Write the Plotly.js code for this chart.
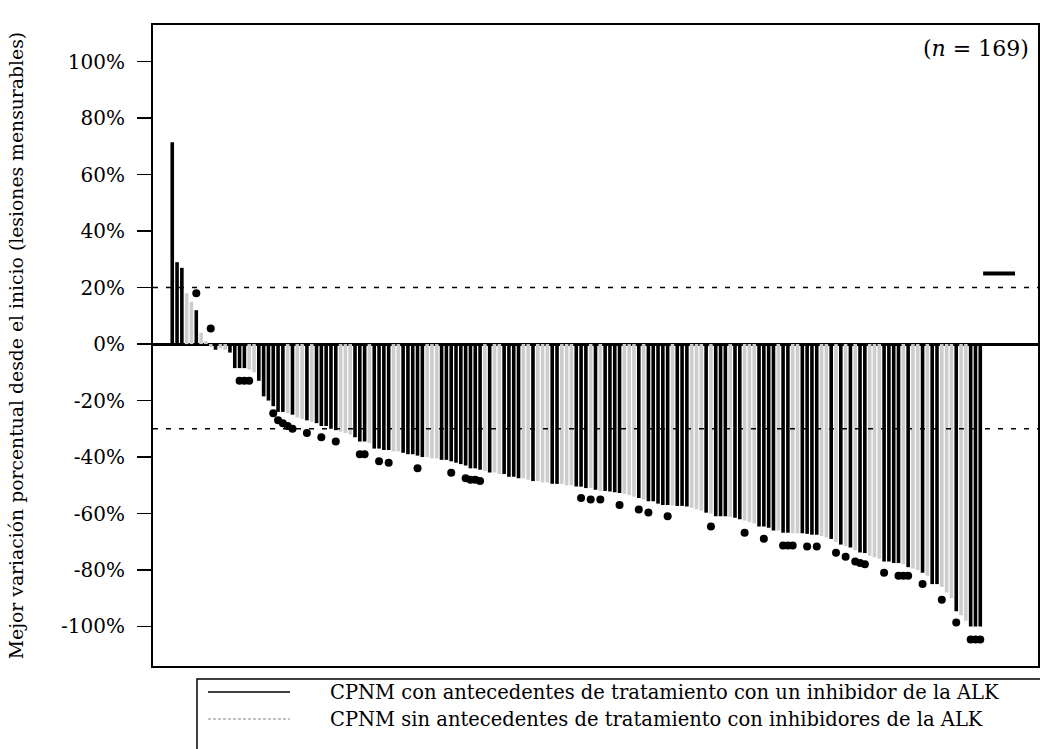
<!DOCTYPE html>
<html>
<head>
<meta charset="utf-8">
<script src="https://cdn.plot.ly/plotly-3.0.1.min.js"></script>
<style>
html,body{margin:0;padding:0;background:#fff;}
#chart{width:1040px;height:749px;}
</style>
</head>
<body>
<div id="chart"></div>
<script>
// Best percent change per patient (visible bar tip), sorted waterfall
const barValues = [
 71.5, 29, 27, 18, 15, 12, 4, 1, -1, -2,
 -1.5, -2, -3, -8.5, -8.5, -8.5, -9, -10, -13, -18.5,
 -20, -22, -24, -24, -24.5, -25, -26, -26.5, -27, -27.5,
 -28, -29, -29, -30, -30.5, -31, -31.5, -32, -33, -34.5,
 -34.5, -35, -37, -37, -37.5, -37.5, -38, -38, -38.5, -39,
 -39, -39.5, -40, -40, -40.5, -40.5, -41, -41, -41.5, -42,
 -42.5, -43, -44, -44, -44.5, -45, -45.5, -45.5, -46, -46,
 -47, -47, -47.5, -47.5, -48, -48.5, -48.5, -49, -49, -49.5,
 -49.5, -49.5, -50, -50, -50.4, -50.5, -51, -51, -51.6, -52,
 -52, -52.2, -52.5, -52.7, -53, -53.5, -54, -54.5, -55, -55.7,
 -55.7, -56.5, -57, -57, -57.2, -57.3, -57.3, -57.5, -58, -58.5,
 -59, -59.7, -60, -61, -61, -61, -61.2, -61.5, -62, -62.5,
 -63, -63.5, -64.6, -64.6, -65, -66, -66, -66.8, -66.8, -67,
 -67, -67, -67.2, -67.5, -67.5, -68, -68.5, -69, -70, -71,
 -71.5, -72, -73, -73.8, -74, -75, -75.5, -76, -77, -77,
 -77.5, -77.5, -78, -79, -79.5, -80, -81, -82, -85, -85,
 -86, -88, -90, -94.6, -96, -98, -100, -100, -100
];
// 'A' = prior ALK inhibitor (black), 'B' = ALK-inhibitor naive (grey)
const groups = [
 'A','A','A','B','B','A','B','B','B','A',
 'B','B','A','A','A','A','B','B','A','A',
 'A','A','A','A','B','A','B','B','A','B',
 'A','A','A','A','A','B','B','B','A','A',
 'A','B','A','A','A','A','B','B','A','A',
 'A','A','A','B','B','B','A','A','A','A',
 'A','A','A','A','A','B','A','B','B','A',
 'A','A','A','B','B','A','B','B','B','A',
 'A','B','B','B','A','A','A','B','A','B',
 'A','A','A','A','B','B','B','A','B','A',
 'A','A','A','A','B','A','A','A','B','B',
 'B','A','B','A','A','A','B','A','A','B',
 'B','B','A','A','A','A','B','A','A','B',
 'B','A','A','A','A','B','B','A','B','A',
 'B','A','B','A','A','B','B','B','A','A',
 'A','A','B','A','B','B','A','B','A','A',
 'B','B','B','A','B','B','A','A','A'
];
// Dot markers below the bars
const dotIndex = [5, 8, 14, 15, 16, 21, 22, 23, 24, 25, 28, 31, 34, 39, 40, 43, 45, 51, 58, 61, 62, 63, 64,
 85, 87, 89, 93, 97, 99, 103, 112, 119, 123, 127, 128, 129, 132, 134, 138, 140, 142, 143, 144,
 148, 151, 152, 153, 156, 160, 163, 166, 167, 168];
const dotValues = [18, 5.5, -13, -13, -13, -24.5, -27, -28, -29, -30, -31.5, -33, -34.5, -39, -39, -41.5, -42, -44, -45.6, -47.5, -48, -48, -48.5,
 -54.5, -55, -55, -57, -58.6, -59.6, -61, -64.6, -66.8, -68.9, -71.3, -71.3, -71.3, -71.7, -71.7, -73.9, -75.3, -77, -77.5, -78,
 -81, -82, -82, -82, -85, -90.5, -98.6, -104.6, -104.6, -104.6];

const tickValues = [100, 80, 60, 40, 20, 0, -20, -40, -60, -80, -100];
const tickLabels = ['100%', '80%', '60%', '40%', '20%', '0%', '-20%', '-40%', '-60%', '-80%', '-100%'];
const seriesNames = [
 'CPNM con antecedentes de tratamiento con un inhibidor de la ALK',
 'CPNM sin antecedentes de tratamiento con inhibidores de la ALK'
];
const seriesColors = ['#000000', '#cdcdcd'];
const thresholds = [20, -30];

const idx = barValues.map((_, i) => i);
const yA = barValues.map((v, i) => groups[i] === 'A' ? v : null);
const yB = barValues.map((v, i) => groups[i] === 'B' ? v : null);

const FONT = 'DejaVu Serif, Liberation Serif, serif';

const traces = [
  {type: 'bar', x: idx, y: yB, name: seriesNames[1], marker: {color: seriesColors[1], line: {width: 0}}, showlegend: false, hoverinfo: 'skip'},
  {type: 'bar', x: idx, y: yA, name: seriesNames[0], marker: {color: seriesColors[0], line: {width: 0}}, showlegend: false, hoverinfo: 'skip'},
  {type: 'scatter', mode: 'markers', x: dotIndex, y: dotValues,
   marker: {color: '#000', size: 8, symbol: 'circle'}, showlegend: false, hoverinfo: 'skip'}
];

const shapes = thresholds.map(t => ({
  type: 'line', xref: 'paper', yref: 'y', x0: 0, x1: 1, y0: t, y1: t,
  line: {color: '#000', width: 1.5, dash: '5px,8px'}, layer: 'above'
}));
shapes.push({type: 'line', xref: 'paper', yref: 'y', x0: 0.938, x1: 0.974, y0: 25, y1: 25,
  line: {color: '#000', width: 4}});

// Hand-built legend box (paper coordinates)
const legRowsY = [-0.0406, -0.0827];
shapes.push({type: 'rect', xref: 'paper', yref: 'paper', x0: 0.0497, x1: 1.01, y0: -0.0203, y1: -0.16,
  line: {color: '#000', width: 1.5}, fillcolor: 'rgba(0,0,0,0)'});
shapes.push({type: 'line', xref: 'paper', yref: 'paper', x0: 0.0621, x1: 0.1548, y0: legRowsY[0], y1: legRowsY[0],
  line: {color: '#000', width: 1.5}});
shapes.push({type: 'line', xref: 'paper', yref: 'paper', x0: 0.0621, x1: 0.1548, y0: legRowsY[1], y1: legRowsY[1],
  line: {color: '#b0b0b0', width: 1.5, dash: '3px,2px'}});

const annotations = [{xref: 'paper', yref: 'paper', x: 0.992, y: 0.964, xanchor: 'right', yanchor: 'middle',
  text: '(<i>n</i> = 169)', showarrow: false, font: {family: FONT, size: 22, color: '#000'}}];
seriesNames.forEach((name, k) => annotations.push({
  xref: 'paper', yref: 'paper', x: 0.1977, y: legRowsY[k], xanchor: 'left', yanchor: 'middle',
  text: name, showarrow: false, font: {family: FONT, size: 19.5, color: '#000'}
}));

const layout = {
  width: 1040, height: 749,
  margin: {l: 153, r: 2, t: 25, b: 83},
  paper_bgcolor: '#fff', plot_bgcolor: '#fff',
  barmode: 'overlay', bargap: 0.25,
  showlegend: false,
  font: {family: FONT, color: '#000', size: 16},
  xaxis: {range: [-4, 180], showticklabels: false, ticks: '', showgrid: false, zeroline: false,
          showline: true, mirror: true, linecolor: '#000', linewidth: 2},
  yaxis: {range: [-114, 113], tickvals: tickValues, ticktext: tickLabels,
          ticks: 'outside', ticklen: 14, tickwidth: 1.5, tickcolor: '#000', ticklabelstandoff: 8,
          tickfont: {family: FONT, size: 20, color: '#000'},
          showgrid: false, zeroline: true, zerolinecolor: '#000', zerolinewidth: 3,
          showline: true, mirror: true, linecolor: '#000', linewidth: 2,
          title: {text: 'Mejor variación porcentual desde el inicio (lesiones mensurables)',
                  font: {family: FONT, size: 18.8, color: '#000'}, standoff: 32}},
  shapes: shapes,
  annotations: annotations
};

Plotly.newPlot('chart', traces, layout, {displayModeBar: false, staticPlot: true});
</script>
</body>
</html>
